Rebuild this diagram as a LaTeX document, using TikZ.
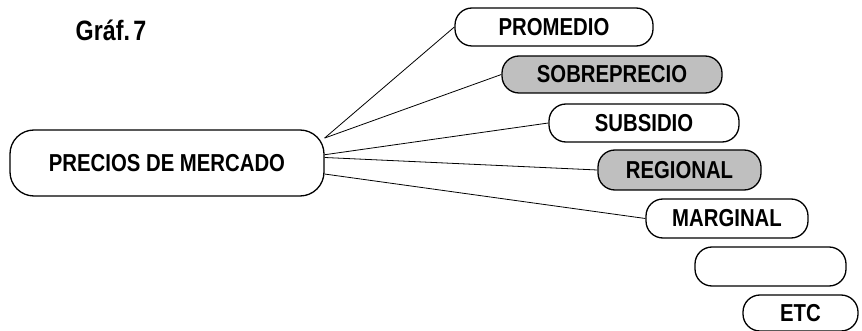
\documentclass[tikz,border=0pt]{standalone}
\usepackage{fontspec}
\setmainfont[FakeStretch=0.83]{Liberation Sans}
\begin{document}
\begin{tikzpicture}[x=1pt,y=-1pt,
  box/.style={draw, line width=1.3pt, rounded corners=17pt, minimum height=38pt,
    inner sep=0pt, font=\fontsize{24.5}{28}\selectfont\bfseries},
  shaded/.style={box, fill=gray!50},
  link/.style={line width=0.8pt}]
\useasboundingbox (0,0) rectangle (862,331);

\node[font=\fontsize{28}{32}\selectfont\bfseries] (title) at (111,30) {Gráf.\hspace{0.12em}7};

\node[box, rounded corners=24pt, minimum width=314pt, minimum height=66pt] (main) at (167,163) {PRECIOS DE MERCADO};

\node[box, minimum width=198pt] (prom) at (554,27) {PROMEDIO};
\node[shaded, minimum width=220pt, minimum height=37pt] (sobre) at (612,74.5) {SOBREPRECIO};
\node[box, minimum width=190pt] (subs) at (644,123) {SUBSIDIO};
\node[shaded, minimum width=163pt, minimum height=40pt] (reg) at (679.5,170) {REGIONAL};
\node[box, minimum width=162pt, minimum height=39pt] (marg) at (727,218.5) {MARGINAL};
\node[box, minimum width=151pt, minimum height=39pt] (blank) at (770.5,266.5) {};
\node[box, minimum width=115pt, minimum height=36pt] (etc) at (800.5,313) {ETC};

\draw[link] (main.9) -- (prom.west);
\draw[link] (main.9) -- (sobre.west);
\draw[link] (main.3) -- (subs.west);
\draw[link] (main.2) -- (reg.west);
\draw[link] (main.-4) -- (marg.west);
\end{tikzpicture}
\end{document}
